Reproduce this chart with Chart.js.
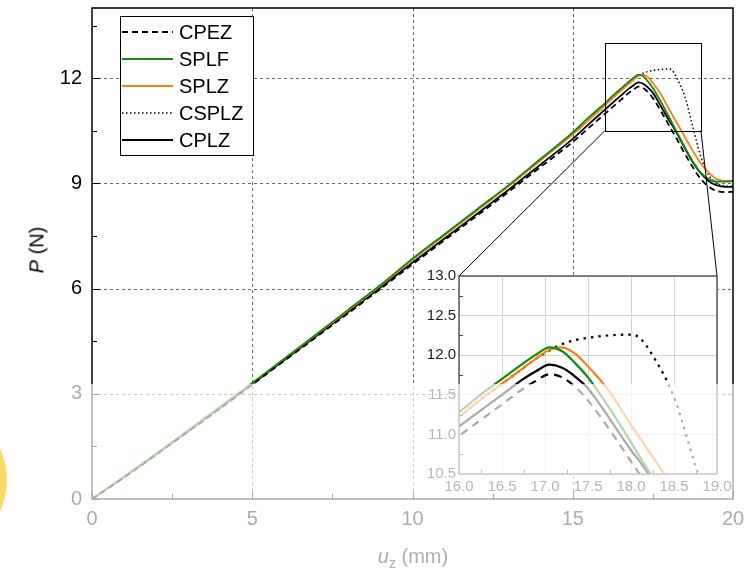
<!DOCTYPE html>
<html>
<head>
<meta charset="utf-8">
<script src="https://cdn.jsdelivr.net/npm/chart.js@4"></script>
<style>
body { margin: 0; background: #fff; }
#wrap { position: relative; width: 745px; height: 576px; overflow: hidden; font-family: "Liberation Sans", Arial, sans-serif; }
#main { position: absolute; left: 0; top: 0; }
#inset { position: absolute; left: 410px; top: 262px; }
.title { position: absolute; font-size: 20px; color: #000; white-space: nowrap; }
#ytitle { left: 37px; top: 250px; transform: translate(-50%, -50%) rotate(-90deg); }
#xtitle { left: 413px; top: 545px; transform: translateX(-50%); }
#xtitle sub { font-size: 14px; }
#fade { position: absolute; left: 0; top: 384px; width: 745px; height: 192px; background: rgba(255,255,255,0.667); }
#blob { position: absolute; left: -145px; top: 404px; width: 152px; height: 152px; border-radius: 50%; background: #ffd866; }
</style>
</head>
<body>
<div id="wrap">
    <canvas id="main" width="745" height="576"></canvas>
    <canvas id="inset" width="330" height="236"></canvas>
    <div class="title" id="ytitle"><i>P</i> (N)</div>
    <div class="title" id="xtitle"><i>u</i><sub>z</sub> (mm)</div>
    <div id="fade"></div>
    <div id="blob"></div>
</div>
<script>
// displacement u_z (mm)
var uValues = [0, 1, 2, 3, 4, 5, 6, 7, 8, 9, 10, 11, 12, 13, 14, 15,
    15.5, 16, 16.25, 16.5, 16.75, 16.9, 17.05, 17.2, 17.35, 17.5, 17.75, 18, 18.1, 18.25, 18.5, 18.75, 19, 19.25, 19.5, 19.75, 20];

// load P (N)
var cpez = [0, 0.61, 1.26, 1.92, 2.58, 3.26, 3.94, 4.62, 5.3, 5.99, 6.69, 7.38, 8.07, 8.76, 9.47, 10.18,
    10.58, 10.98, 11.18, 11.38, 11.58, 11.68, 11.76, 11.72, 11.6, 11.43, 11.06, 10.66, 10.5, 10.26, 9.84, 9.45, 9.12, 8.9, 8.78, 8.75, 8.76];
var splf = [0, 0.64, 1.29, 1.96, 2.63, 3.31, 4.0, 4.7, 5.4, 6.1, 6.85, 7.55, 8.25, 8.95, 9.7, 10.45,
    10.88, 11.28, 11.5, 11.7, 11.9, 12.01, 12.10, 12.05, 11.9, 11.72, 11.33, 10.9, 10.72, 10.46, 10.02, 9.62, 9.3, 9.12, 9.05, 9.05, 9.06];
var splz = [0, 0.63, 1.28, 1.95, 2.62, 3.3, 3.99, 4.68, 5.38, 6.08, 6.82, 7.52, 8.22, 8.92, 9.66, 10.4,
    10.81, 11.22, 11.44, 11.64, 11.84, 11.96, 12.07, 12.10, 12.02, 11.86, 11.54, 11.12, 10.96, 10.72, 10.32, 9.92, 9.56, 9.3, 9.12, 9.07, 9.08];
var csplz = [0, 0.63, 1.28, 1.95, 2.62, 3.3, 3.99, 4.68, 5.38, 6.08, 6.82, 7.52, 8.22, 8.92, 9.66, 10.4,
    10.81, 11.22, 11.44, 11.64, 11.84, 11.96, 12.06, 12.14, 12.19, 12.22, 12.25, 12.26, 12.22, 12.0, 11.47, 10.6, 9.75, 9.22, 9.0, 8.93, 8.92];
var cplz = [0, 0.62, 1.27, 1.93, 2.6, 3.28, 3.96, 4.65, 5.34, 6.03, 6.74, 7.43, 8.12, 8.82, 9.54, 10.27,
    10.69, 11.1, 11.3, 11.5, 11.7, 11.8, 11.88, 11.84, 11.73, 11.58, 11.2, 10.8, 10.66, 10.43, 10.0, 9.6, 9.28, 9.06, 8.94, 8.9, 8.9];

var xTicks = [0, 5, 10, 15, 20];
var xMinor = [2.5, 7.5, 12.5, 17.5];
var yTicks = [0, 3, 6, 9, 12];
var yMinor = [1.5, 4.5, 7.5, 10.5, 13.5];

var insetXTicks = [16, 16.5, 17, 17.5, 18, 18.5, 19];
var insetYTicks = [10.5, 11, 11.5, 12, 12.5, 13];

var series = [
    { label: 'CPEZ', values: cpez, color: '#000', dash: [6, 4], insetDash: [8, 6] },
    { label: 'SPLF', values: splf, color: '#118a11', dash: [], insetDash: [] },
    { label: 'SPLZ', values: splz, color: '#ff7f0e', dash: [], insetDash: [] },
    { label: 'CSPLZ', values: csplz, color: '#000', dash: [1.5, 2.5], insetDash: [2.5, 5] },
    { label: 'CPLZ', values: cplz, color: '#000', dash: [], insetDash: [] }
];

function points(values) {
    return uValues.map(function (u, i) { return { x: u, y: values[i] }; });
}

function makeDatasets(inset) {
    return series.map(function (s) {
        return {
            label: s.label,
            data: points(s.values),
            borderColor: s.color,
            borderWidth: inset ? 2.2 : (s.label === 'CSPLZ' ? 1.5 : 1.8),
            borderDash: inset ? s.insetDash : s.dash,
            pointRadius: 0,
            fill: false,
            cubicInterpolationMode: 'monotone'
        };
    });
}

// no extra room for first/last tick labels, so the plot area is set by layout padding only
function noLabelPadding(scale) {
    scale.paddingTop = 0;
    scale.paddingBottom = 0;
    scale.paddingLeft = 0;
    scale.paddingRight = 0;
}

var insetChart = null;

var mainDecor = {
    id: 'mainDecor',
    beforeDatasetsDraw: function (chart) {
        var ctx = chart.ctx, a = chart.chartArea, xs = chart.scales.x, ys = chart.scales.y;
        ctx.save();
        ctx.strokeStyle = '#666';
        ctx.lineWidth = 1;
        ctx.setLineDash([3, 3]);
        xTicks.slice(1, -1).forEach(function (v) {
            var px = Math.round(xs.getPixelForValue(v)) + 0.5;
            ctx.beginPath(); ctx.moveTo(px, a.top); ctx.lineTo(px, a.bottom); ctx.stroke();
        });
        yTicks.slice(1).forEach(function (v) {
            var py = Math.round(ys.getPixelForValue(v)) + 0.5;
            ctx.beginPath(); ctx.moveTo(a.left, py); ctx.lineTo(a.right, py); ctx.stroke();
        });
        ctx.restore();
    },
    afterDatasetsDraw: function (chart) {
        var ctx = chart.ctx, a = chart.chartArea, xs = chart.scales.x, ys = chart.scales.y;
        ctx.save();
        ctx.strokeStyle = '#000';
        ctx.lineWidth = 1.5;
        ctx.strokeRect(a.left, a.top, a.right - a.left, a.bottom - a.top);
        ctx.lineWidth = 1;
        xTicks.forEach(function (v) {
            var px = Math.round(xs.getPixelForValue(v)) + 0.5;
            ctx.beginPath(); ctx.moveTo(px, a.bottom); ctx.lineTo(px, a.bottom - 8); ctx.stroke();
        });
        xMinor.forEach(function (v) {
            var px = Math.round(xs.getPixelForValue(v)) + 0.5;
            ctx.beginPath(); ctx.moveTo(px, a.bottom); ctx.lineTo(px, a.bottom - 5); ctx.stroke();
        });
        yTicks.forEach(function (v) {
            var py = Math.round(ys.getPixelForValue(v)) + 0.5;
            ctx.beginPath(); ctx.moveTo(a.left, py); ctx.lineTo(a.left + 8, py); ctx.stroke();
        });
        yMinor.forEach(function (v) {
            var py = Math.round(ys.getPixelForValue(v)) + 0.5;
            ctx.beginPath(); ctx.moveTo(a.left, py); ctx.lineTo(a.left + 5, py); ctx.stroke();
        });
        ctx.restore();
    },
    afterDraw: function (chart) {
        var ctx = chart.ctx, xs = chart.scales.x, ys = chart.scales.y;
        ctx.save();

        // zoom box
        var bx1 = xs.getPixelForValue(insetXTicks[0]), bx2 = xs.getPixelForValue(insetXTicks[insetXTicks.length - 1]);
        var by1 = ys.getPixelForValue(insetYTicks[insetYTicks.length - 1]), by2 = ys.getPixelForValue(insetYTicks[0]);
        ctx.strokeStyle = '#000';
        ctx.lineWidth = 1;
        ctx.setLineDash([]);
        ctx.strokeRect(Math.round(bx1) + 0.5, Math.round(by1) + 0.5, Math.round(bx2 - bx1), Math.round(by2 - by1));

        if (insetChart) {
            var off = document.getElementById('inset');
            var ia = insetChart.chartArea;
            var ox = off.offsetLeft, oy = off.offsetTop;
            ctx.beginPath();
            ctx.moveTo(bx1, by2); ctx.lineTo(ox + ia.left, oy + ia.top);
            ctx.moveTo(bx2, by2); ctx.lineTo(ox + ia.right, oy + ia.top);
            ctx.stroke();
        }

        // legend
        var lx = 120, ly = 16, lw = 133, lh = 139;
        ctx.fillStyle = '#fff';
        ctx.fillRect(lx, ly, lw, lh);
        ctx.strokeStyle = '#000';
        ctx.lineWidth = 1;
        ctx.strokeRect(lx + 0.5, ly + 0.5, lw, lh);
        ctx.font = '20px "Liberation Sans", Arial, sans-serif';
        ctx.textBaseline = 'middle';
        chart.data.datasets.forEach(function (ds, i) {
            var yy = ly + 16 + i * 27;
            ctx.strokeStyle = ds.borderColor;
            ctx.lineWidth = ds.borderWidth;
            ctx.setLineDash(ds.borderDash);
            ctx.beginPath(); ctx.moveTo(lx + 2, yy); ctx.lineTo(lx + 53, yy); ctx.stroke();
            ctx.setLineDash([]);
            ctx.fillStyle = '#000';
            ctx.fillText(ds.label, lx + 59, yy + 1);
        });
        ctx.restore();
    }
};

var insetDecor = {
    id: 'insetDecor',
    beforeDraw: function (chart) {
        var ctx = chart.ctx, a = chart.chartArea;
        ctx.save();
        ctx.fillStyle = '#fff';
        ctx.fillRect(a.left, a.top, a.right - a.left, a.bottom - a.top);
        ctx.restore();
    },
    afterDatasetsDraw: function (chart) {
        var ctx = chart.ctx, a = chart.chartArea, xs = chart.scales.x, ys = chart.scales.y;
        ctx.save();
        ctx.strokeStyle = '#444';
        ctx.lineWidth = 1.3;
        ctx.strokeRect(a.left, a.top, a.right - a.left, a.bottom - a.top);
        ctx.lineWidth = 1;
        for (var i = 0; i < insetXTicks.length - 1; i++) {
            var px = Math.round(xs.getPixelForValue((insetXTicks[i] + insetXTicks[i + 1]) / 2)) + 0.5;
            ctx.beginPath(); ctx.moveTo(px, a.bottom); ctx.lineTo(px, a.bottom - 4); ctx.stroke();
        }
        for (var j = 0; j < insetYTicks.length - 1; j++) {
            var py = Math.round(ys.getPixelForValue((insetYTicks[j] + insetYTicks[j + 1]) / 2)) + 0.5;
            ctx.beginPath(); ctx.moveTo(a.left, py); ctx.lineTo(a.left + 4, py); ctx.stroke();
        }
        ctx.restore();
    }
};

var mainChart = new Chart(document.getElementById('main'), {
    type: 'line',
    data: { datasets: makeDatasets(false) },
    options: {
        responsive: false,
        animation: false,
        layout: { padding: { top: 8, right: 12, left: 0, bottom: 0 } },
        plugins: { legend: { display: false }, tooltip: { enabled: false } },
        scales: {
            x: {
                type: 'linear', min: 0, max: 20,
                afterBuildTicks: function (scale) { scale.ticks = xTicks.map(function (v) { return { value: v }; }); },
                afterFit: function (scale) { scale.height = 77; noLabelPadding(scale); },
                grid: { display: false, drawTicks: false },
                border: { display: false },
                ticks: { color: '#000', padding: 8, maxRotation: 0, font: { family: '"Liberation Sans", Arial, sans-serif', size: 20 } }
            },
            y: {
                type: 'linear', min: 0, max: 14,
                afterBuildTicks: function (scale) { scale.ticks = yTicks.map(function (v) { return { value: v }; }); },
                afterFit: function (scale) { scale.width = 92; noLabelPadding(scale); },
                grid: { display: false, drawTicks: false },
                border: { display: false },
                ticks: { color: '#000', padding: 10, font: { family: '"Liberation Sans", Arial, sans-serif', size: 20 } }
            }
        }
    },
    plugins: [mainDecor]
});

insetChart = new Chart(document.getElementById('inset'), {
    type: 'line',
    data: { datasets: makeDatasets(true) },
    options: {
        responsive: false,
        animation: false,
        layout: { padding: { top: 14, right: 23, left: 0, bottom: 0 } },
        plugins: { legend: { display: false }, tooltip: { enabled: false } },
        scales: {
            x: {
                type: 'linear', min: 16, max: 19,
                afterBuildTicks: function (scale) { scale.ticks = insetXTicks.map(function (v) { return { value: v }; }); },
                afterFit: function (scale) { scale.height = 24; noLabelPadding(scale); },
                grid: { color: '#d4d4d4', lineWidth: 1, drawTicks: false },
                border: { display: false },
                ticks: { color: '#222', padding: 4, maxRotation: 0, autoSkip: false, font: { family: '"Liberation Sans", Arial, sans-serif', size: 15 },
                    callback: function (v) { return v.toFixed(1); } }
            },
            y: {
                type: 'linear', min: 10.5, max: 13,
                afterBuildTicks: function (scale) { scale.ticks = insetYTicks.map(function (v) { return { value: v }; }); },
                afterFit: function (scale) { scale.width = 49; noLabelPadding(scale); },
                grid: { color: '#d4d4d4', lineWidth: 1, drawTicks: false },
                border: { display: false },
                ticks: { color: '#222', padding: 3, font: { family: '"Liberation Sans", Arial, sans-serif', size: 15 },
                    callback: function (v) { return v.toFixed(1); } }
            }
        }
    },
    plugins: [insetDecor]
});

mainChart.draw();
</script>
</body>
</html>
